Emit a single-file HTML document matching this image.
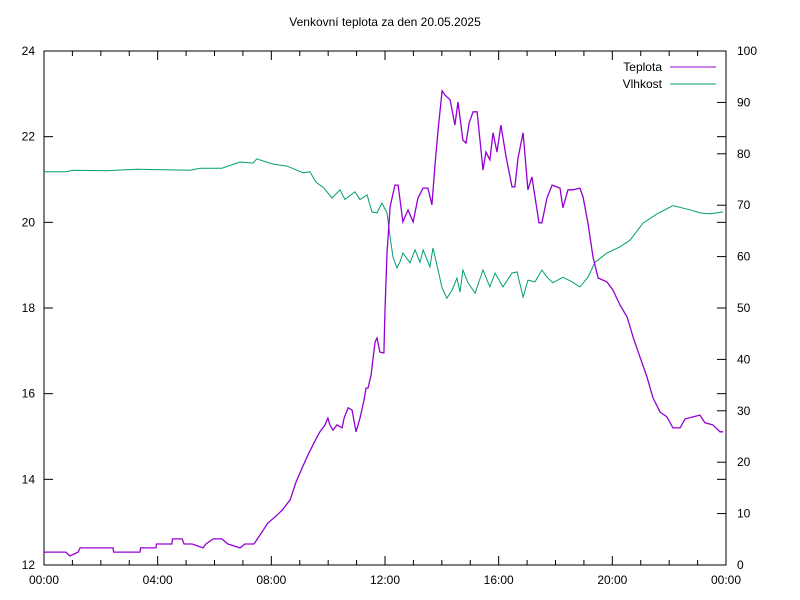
<!DOCTYPE html>
<html><head><meta charset="utf-8"><style>
body{margin:0;background:#fff}
svg{display:block;font-family:"Liberation Sans",Arial,sans-serif;font-size:12px}
</style></head><body>
<svg id="chart" width="800" height="600" viewBox="0 0 800 600" xmlns="http://www.w3.org/2000/svg">
<rect width="800" height="600" fill="#fff"/>
<text x="385" y="26" text-anchor="middle">Venkovní teplota za den 20.05.2025</text>
<g id="axes"></g>
<g id="series"></g>
<g>
<text x="662" y="71" text-anchor="end">Teplota</text>
<line x1="670" y1="67" x2="716" y2="67" stroke="#9400d3" stroke-width="1"/>
<text x="662" y="88" text-anchor="end">Vlhkost</text>
<line x1="670" y1="84" x2="716" y2="84" stroke="#009e73" stroke-width="1"/>
</g>
</svg>
<script>
const xTickLabels = ["00:00","04:00","08:00","12:00","16:00","20:00","00:00"];
const yLeftTicks = [12,14,16,18,20,22,24];
const yRightTicks = [0,10,20,30,40,50,60,70,80,90,100];
const tempHours = [0,0.77,0.91,1.2,1.27,2.43,2.45,3.38,3.4,3.94,3.96,4.5,4.52,4.86,4.93,5.21,5.6,5.7,5.95,6.26,6.47,6.9,7.07,7.39,7.6,7.88,8.16,8.38,8.66,8.87,9.08,9.29,9.57,9.71,9.89,9.99,10.06,10.17,10.31,10.49,10.56,10.7,10.84,10.98,11.12,11.26,11.33,11.4,11.51,11.58,11.65,11.72,11.82,11.96,12.0,12.07,12.18,12.35,12.46,12.63,12.81,12.99,13.16,13.34,13.51,13.65,13.76,13.87,14.01,14.11,14.29,14.46,14.57,14.74,14.85,14.96,15.1,15.24,15.45,15.55,15.69,15.8,15.94,16.08,16.26,16.47,16.57,16.68,16.86,17.03,17.17,17.42,17.52,17.7,17.88,18.16,18.26,18.44,18.62,18.86,18.97,19.14,19.32,19.5,19.81,20.02,20.27,20.52,20.73,20.97,21.22,21.43,21.68,21.92,22.13,22.38,22.56,23.08,23.26,23.54,23.79,23.9];
const tempValues = [12.3,12.3,12.21,12.3,12.4,12.4,12.3,12.3,12.4,12.4,12.49,12.49,12.61,12.61,12.49,12.49,12.4,12.49,12.61,12.61,12.49,12.4,12.49,12.49,12.7,12.98,13.14,13.28,13.52,13.94,14.26,14.57,14.94,15.11,15.27,15.43,15.27,15.15,15.27,15.2,15.43,15.67,15.62,15.11,15.43,15.85,16.13,16.13,16.44,16.83,17.21,17.3,16.97,16.95,17.95,19.28,20.36,20.87,20.87,20.01,20.29,20.01,20.57,20.8,20.8,20.41,21.34,22.16,23.07,22.97,22.86,22.27,22.81,21.92,21.85,22.32,22.58,22.58,21.22,21.64,21.46,22.09,21.64,22.27,21.53,20.83,20.83,21.5,22.09,20.76,21.06,19.99,19.99,20.57,20.87,20.8,20.34,20.76,20.76,20.8,20.59,19.99,19.19,18.7,18.61,18.42,18.07,17.79,17.32,16.86,16.39,15.9,15.57,15.46,15.2,15.2,15.41,15.5,15.32,15.27,15.11,15.11];
const humHours = [0,0.77,1.02,2.22,3.27,5.14,5.49,6.26,6.9,7.35,7.49,8.06,8.55,9.12,9.36,9.57,9.82,10.14,10.42,10.59,10.94,11.12,11.37,11.54,11.72,11.89,12.07,12.18,12.28,12.42,12.52,12.63,12.88,13.06,13.23,13.34,13.58,13.69,14.01,14.18,14.36,14.53,14.64,14.74,14.92,15.17,15.45,15.69,15.87,16.15,16.47,16.65,16.86,17.03,17.28,17.52,17.7,17.91,18.26,18.58,18.86,19.14,19.39,19.81,20.27,20.62,21.08,21.57,22.13,22.73,23.08,23.43,23.9];
const humValues = [76.5,76.5,76.8,76.7,77.0,76.8,77.2,77.2,78.4,78.2,79.0,78.0,77.6,76.3,76.5,74.5,73.5,71.4,73.0,71.1,72.6,71.1,72.0,68.7,68.5,70.4,68.5,63.8,59.9,57.8,58.9,60.7,58.8,61.3,58.9,61.3,58.0,61.7,53.9,51.9,53.5,55.8,53.1,57.4,54.9,52.9,57.4,54.1,56.8,54.1,56.8,57.0,52.1,55.4,55.1,57.4,56.0,54.9,56.0,55.1,54.1,56.0,58.9,60.7,61.9,63.2,66.5,68.3,69.9,69.1,68.5,68.3,68.7];

const X0=44,X1=726,Y0=565,Y1=51;
const xs=h=>X0+(h/24)*(X1-X0);
const yl=v=>Y0-(v-12)/12*(Y0-Y1);
const yr=v=>Y0-v/100*(Y0-Y1);
const NS="http://www.w3.org/2000/svg";
const axes=document.getElementById('axes');
const series=document.getElementById('series');
function mk(tag,attrs,parent){const e=document.createElementNS(NS,tag);for(const k in attrs)e.setAttribute(k,attrs[k]);parent.appendChild(e);return e;}

const frame=mk('rect',{x:X0,y:Y1,width:X1-X0,height:Y0-Y1,fill:'none',stroke:'#000','stroke-width':1},axes);



for(let h=0;h<=24;h++){
  const x=xs(h), len=(h%4===0)?9:5;
  const t=mk('line',{x1:x,y1:Y0,x2:x,y2:Y0-len,stroke:'#000'},axes);
  
  
  const t2=mk('line',{x1:x,y1:Y1,x2:x,y2:Y1+len,stroke:'#000'},axes);
  
  
}
xTickLabels.forEach((lab,i)=>{
  const tx=mk('text',{x:xs(i*4),y:584,'text-anchor':'middle'},axes);
  tx.textContent=lab;
  
  
});
yLeftTicks.forEach(v=>{
  const y=yl(v);
  const t=mk('line',{x1:X0,y1:y,x2:X0+9,y2:y,stroke:'#000'},axes);
  
  
  const t2=mk('line',{x1:X1,y1:y,x2:X1-9,y2:y,stroke:'#000'},axes);
  
  
  const tx=mk('text',{x:35,y:y+4,'text-anchor':'end'},axes);
  tx.textContent=v;
  
  
});
yRightTicks.forEach(v=>{
  const y=yr(v);
  const t=mk('line',{x1:X1,y1:y,x2:X1-9,y2:y,stroke:'#000'},axes);
  
  
  const tx=mk('text',{x:737,y:y+4,'text-anchor':'start'},axes);
  tx.textContent=v;
  
  
});

const hp=mk('polyline',{points:humHours.map((h,i)=>xs(h).toFixed(1)+','+yr(humValues[i]).toFixed(1)).join(' '),fill:'none',stroke:'#009e73','stroke-width':1},series);


const tp=mk('polyline',{points:tempHours.map((h,i)=>xs(h).toFixed(1)+','+yl(tempValues[i]).toFixed(1)).join(' '),fill:'none',stroke:'#9400d3','stroke-width':1.3},series);


</script>
</body></html>
